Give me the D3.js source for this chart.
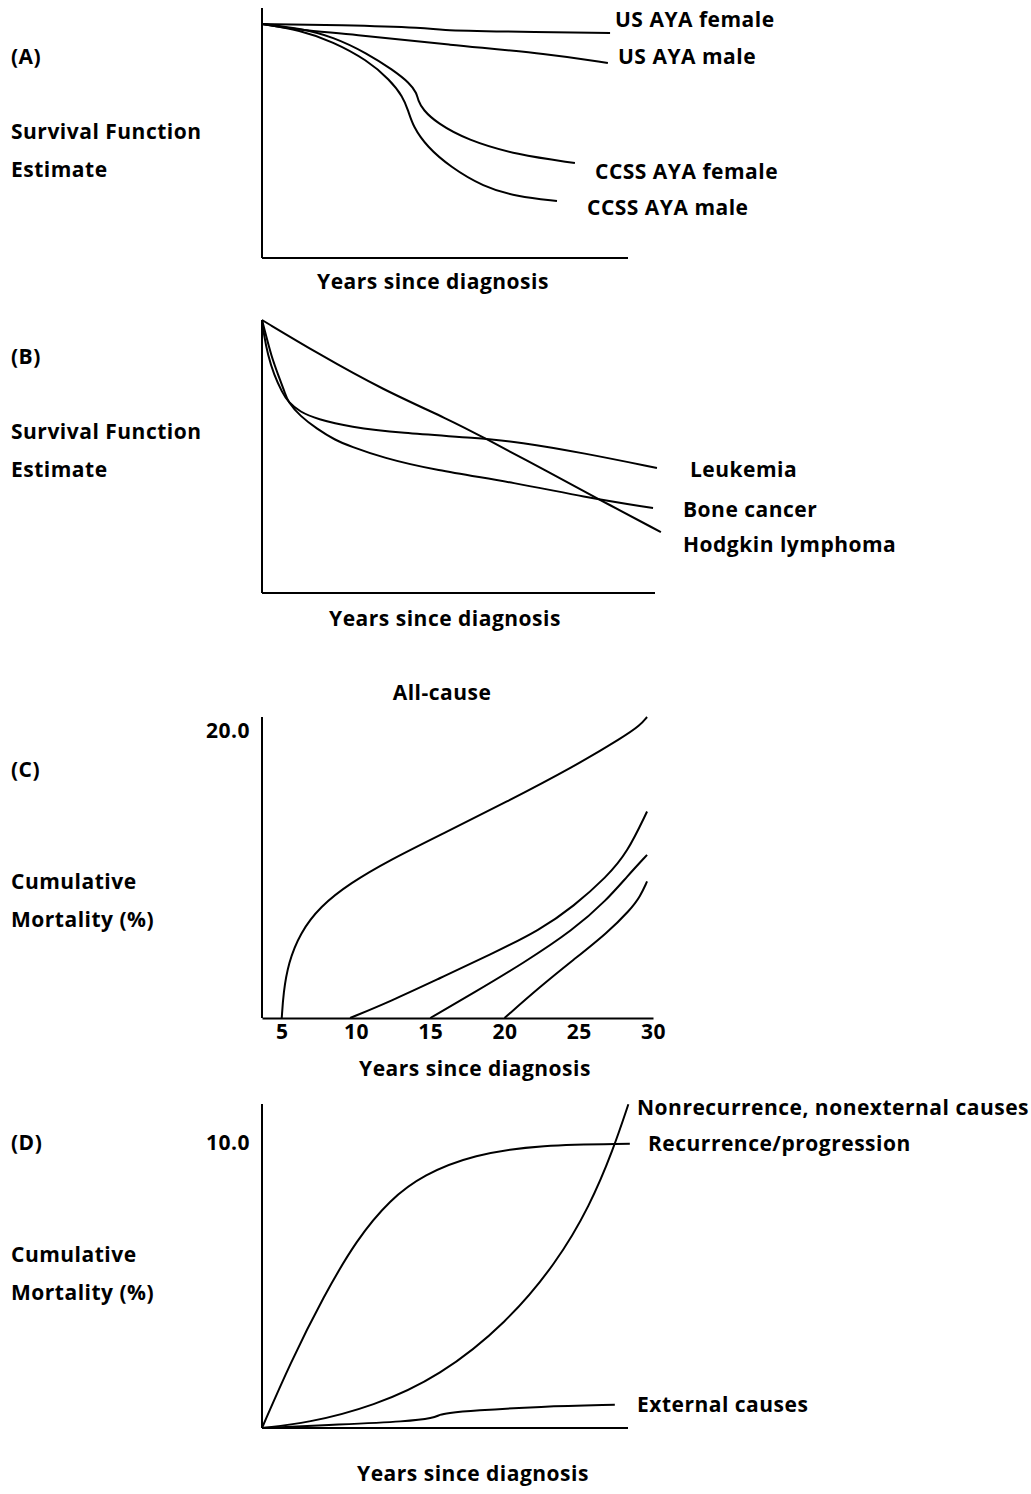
<!DOCTYPE html>
<html>
<head>
<meta charset="utf-8">
<style>
  body { margin: 0; background: #fff; }
  text { font-family: "Open Sans", "Noto Sans", sans-serif; font-weight: bold; font-size: 21px; letter-spacing: 0.5px; fill: #000; }
  .curve { fill: none; stroke: #000; stroke-width: 2; }
  .ax { stroke: #000; stroke-width: 2; }
</style>
</head>
<body>
<svg width="1031" height="1494"></svg>
<script src="https://d3js.org/d3.v7.min.js"></script>
<script>

// (A) survival curves, x: 0-100 (relative time), y: 0-100 (relative survival)
var usFemale   = [[0,93.6],[21.3,93.2],[45.9,92],[47.5,91.2],[65,90.6],[95.1,90]];
var usMale     = [[0,93.6],[10.4,91.2],[24,89.6],[51.4,85.2],[78.7,81.6],[94.5,78]];
var ccssFemale = [[0,93.6],[10.4,91.9],[19.4,88.5],[28.7,81.9],[35.8,75.2],[40.4,69.9],[42.3,65.9],
                  [42.6,63.2],[44,59.2],[47.8,54],[56,47.2],[69.7,41.2],[85.5,38]];
var ccssMale   = [[0,93.6],[10.4,91.2],[19.4,86.5],[28.7,79.2],[35,71.2],[38.5,64.5],[39.9,59.2],
                  [41.3,52.5],[45.1,44.5],[51.4,36.5],[60.4,28.5],[69.7,24.5],[80.6,22.8]];

// (B) survival by diagnosis
var hodgkin  = [[0,100],[14,87.9],[30.8,74.4],[47.8,63.4],[56.2,57.1],[73.3,44],[86,34.1],[101.5,22.3]];
var leukemia = [[0,100],[0.5,94.5],[1.5,87.2],[3.05,79.9],[5.1,73.6],[6.6,70],[9.7,66.3],[14,63.7],
                [22.4,60.8],[35.1,58.6],[54.7,56.8],[65.6,55.3],[81.7,51.3],[100.5,45.8]];
var bone     = [[0,100],[1,94.5],[2.3,87.2],[4.1,79.9],[5.85,73.3],[6.6,70],[9.7,64.8],[14,60.1],
                [18.6,56],[22.4,53.8],[30.8,49.5],[43.5,45.1],[64.9,40.3],[81.7,35.2],[99.5,31.1]];

// (C) all-cause cumulative mortality (%) by years since diagnosis
var cYearTicks = [5, 10, 15, 20, 25, 30];
var cValueTicks = [20];
var from5  = [[5,0],[5.11,1.74],[5.44,3.82],[6.23,5.9],[7.58,7.75],[9.6,9.37],[12.3,10.99],[15.67,12.72],
              [20.16,15.03],[24.65,17.46],[28.02,19.54],[29.14,20.35],[29.6,20.92]];
var from10 = [[9.6,0],[12.3,1.15],[15.67,2.78],[19.04,4.4],[22.41,6.13],[24.65,7.75],[26.9,9.83],[28.25,11.46],[29.6,14.35]];
var from15 = [[15,0],[17.91,1.74],[21.28,3.82],[24.65,6.13],[26.9,8.22],[28.25,9.83],[29.6,11.34]];
var from20 = [[20,0],[22.41,2.19],[24.65,4.05],[26.9,5.9],[28.47,7.52],[29.14,8.45],[29.6,9.49]];

// (D) cause-specific cumulative mortality (%)
var dValueTicks = [10];
var nonrecurrence = [[0,0],[12.3,0.17],[30.5,0.76],[48.6,1.81],[66.9,3.68],[80.5,5.78],[89.6,7.77],[96,9.75],[100.1,11.32]];
var recurrence    = [[0,0],[7.7,2.27],[16.8,4.6],[25.9,6.6],[35,7.99],[44.1,8.86],[57.8,9.56],[76,9.91],[100.5,9.94]];
var external      = [[0,0],[21.4,0.12],[39.6,0.23],[46.9,0.35],[48.6,0.47],[50.5,0.52],[57.7,0.61],[75.9,0.75],[96.4,0.81]];

var svg = d3.select("svg");

function panel(o) {
  var x = d3.scaleLinear().domain(o.xd).range(o.xr);
  var y = d3.scaleLinear().domain(o.yd).range(o.yr);
  var g = svg.append("g");

  var line = d3.line()
      .x(function(d) { return x(d[0]); })
      .y(function(d) { return y(d[1]); })
      .curve(d3.curveBasis);   // smooths out the hand-read points

  o.series.forEach(function(s) {
    g.append("path").attr("class", "curve").attr("d", line(s));
  });

  // axes as plain lines, or with tick labels where the figure has them
  if (o.xTicks) {
    var xa = g.append("g").attr("transform", "translate(0," + o.yr[0] + ")")
      .call(d3.axisBottom(x).tickValues(o.xTicks).tickSize(0).tickPadding(6).tickSizeOuter(0));
    xa.select(".domain").attr("stroke-width", 2);
    xa.selectAll("text").attr("font-size", null).attr("font-family", null);
  } else {
    g.append("line").attr("class", "ax")
      .attr("x1", o.xr[0]).attr("x2", o.xr[1]).attr("y1", o.yr[0]).attr("y2", o.yr[0]);
  }
  g.append("line").attr("class", "ax")
    .attr("x1", o.xr[0]).attr("x2", o.xr[0]).attr("y1", o.yr[0]).attr("y2", o.yr[1]);
  if (o.yTicks) {
    g.selectAll(".yt").data(o.yTicks).enter().append("text")
      .attr("x", o.xr[0] - 12).attr("y", function(d) { return y(d) + 8; })
      .attr("text-anchor", "end").text(d3.format(".1f"));
  }

  o.labels.forEach(function(l) {
    g.append("text").attr("x", l[1]).attr("y", l[2])
      .attr("text-anchor", l[3] || "start").text(l[0]);
  });
}

panel({
  xd: [0, 100], xr: [262, 628], yd: [0, 100], yr: [258, 8],
  series: [usFemale, usMale, ccssFemale, ccssMale],
  labels: [["(A)", 11, 64], ["Survival Function", 11, 139], ["Estimate", 11, 177],
           ["US AYA female", 615, 27], ["US AYA male", 618, 64],
           ["CCSS AYA female", 595, 179], ["CCSS AYA male", 587, 215],
           ["Years since diagnosis", 433, 289, "middle"]]
});

panel({
  xd: [0, 100], xr: [262, 655], yd: [0, 100], yr: [593, 320],
  series: [hodgkin, leukemia, bone],
  labels: [["(B)", 11, 364], ["Survival Function", 11, 439], ["Estimate", 11, 477],
           ["Leukemia", 690, 477], ["Bone cancer", 683, 517], ["Hodgkin lymphoma", 683, 552],
           ["Years since diagnosis", 445, 626, "middle"]]
});

panel({
  xd: [3.67, 30], xr: [262, 653], yd: [0, 20.92], yr: [1018, 717],
  series: [from5, from10, from15, from20],
  xTicks: cYearTicks, yTicks: cValueTicks,
  labels: [["All-cause", 442, 700, "middle"], ["(C)", 11, 777], ["Cumulative", 11, 889], ["Mortality (%)", 11, 927],
           ["Years since diagnosis", 475, 1076, "middle"]]
});

panel({
  xd: [0, 100], xr: [262, 628], yd: [0, 11.33], yr: [1428, 1104],
  series: [nonrecurrence, recurrence, external],
  yTicks: dValueTicks,
  labels: [["(D)", 11, 1150], ["Cumulative", 11, 1262], ["Mortality (%)", 11, 1300],
           ["Nonrecurrence, nonexternal causes", 637, 1115], ["Recurrence/progression", 648, 1151],
           ["External causes", 637, 1412],
           ["Years since diagnosis", 473, 1481, "middle"]]
});

</script>
</body>
</html>
